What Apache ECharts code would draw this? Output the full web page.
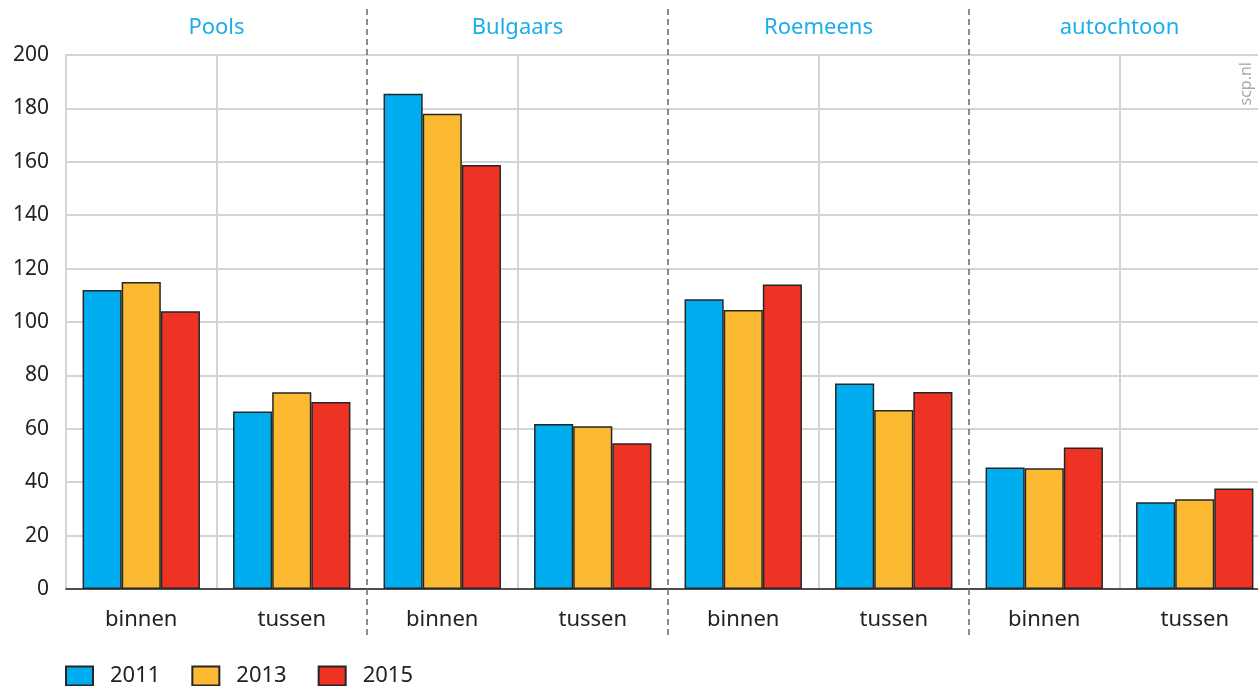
<!DOCTYPE html>
<html>
<head>
<meta charset="utf-8">
<script src="https://cdn.jsdelivr.net/npm/echarts@6/dist/echarts.min.js"></script>
<style>
html,body{margin:0;padding:0;background:#fff;}
#chart{width:1258px;height:686px;}
</style>
</head>
<body>
<div id="chart"></div>
<script>
// ---- data ----
const groups = ['Pools', 'Bulgaars', 'Roemeens', 'autochtoon'];
const categories = ['binnen', 'tussen', 'binnen', 'tussen', 'binnen', 'tussen', 'binnen', 'tussen'];
const years = ['2011', '2013', '2015'];
const values2011 = [112, 66.5, 185.5, 61.8, 108.5, 77, 45.5, 32.5];
const values2013 = [115, 73.7, 178, 61, 104.5, 67, 45.2, 33.6];
const values2015 = [104, 70, 158.8, 54.6, 114, 73.8, 53, 37.6];
const separators = [2, 4, 6]; // group boundaries, in category units
const yTicks = { min: 0, max: 200, interval: 20 };

const colors = ['#00aeef', '#fbba31', '#ee3224'];
const font = 'Noto Sans';

const chart = echarts.init(document.getElementById('chart'));

function barSeries(name, data, color) {
  return {
    name: name,
    type: 'bar',
    xAxisIndex: 0,
    yAxisIndex: 0,
    data: data,
    barGap: '0%',
    barCategoryGap: '22%',
    itemStyle: { color: color, borderColor: '#262626', borderWidth: 1.5 }
  };
}

const option = {
  animation: false,
  backgroundColor: '#fff',
  textStyle: { fontFamily: font },
  grid: [
    { left: 66, top: 55, right: -12, bottom: 97, containLabel: false, outerBoundsMode: 'none' },
    { left: 66, top: 8, right: -12, bottom: 51, containLabel: false, outerBoundsMode: 'none' }
  ],
  legend: {
    left: 65,
    top: 665,
    padding: 0,
    itemWidth: 27,
    itemHeight: 19,
    itemGap: 31,
    icon: 'rect',
    data: years,
    textStyle: { fontFamily: font, fontSize: 22, color: '#222', padding: [0, 0, 0, 12] }
  },
  xAxis: [
    {
      type: 'category',
      gridIndex: 0,
      data: categories,
      axisLine: { lineStyle: { color: '#222', width: 1.5 } },
      axisTick: { alignWithLabel: true, length: 10, lineStyle: { color: '#222', width: 1.5 } },
      axisLabel: { fontFamily: font, fontSize: 22, color: '#222', margin: 20, interval: 0 },
      splitLine: { show: true, lineStyle: { color: ['transparent', '#d4d4d4'], width: 2 } }
    },
    {
      type: 'category',
      gridIndex: 0,
      position: 'top',
      data: groups,
      axisLine: { show: false },
      axisTick: { show: false },
      axisLabel: { fontFamily: font, fontSize: 22, color: '#1aaeea', margin: 16, interval: 0 },
      splitLine: { show: false }
    },
    {
      type: 'value',
      gridIndex: 1,
      min: 0,
      max: categories.length,
      show: false
    }
  ],
  yAxis: [
    {
      type: 'value',
      gridIndex: 0,
      min: yTicks.min,
      max: yTicks.max,
      interval: yTicks.interval,
      axisLine: { show: true, lineStyle: { color: '#d4d4d4', width: 2 } },
      axisTick: { show: false },
      axisLabel: { fontFamily: font, fontSize: 21, color: '#222', margin: 17 },
      splitLine: { show: true, lineStyle: { color: '#d4d4d4', width: 2 } }
    },
    {
      type: 'value',
      gridIndex: 1,
      min: 0,
      max: 1,
      show: false
    }
  ],
  graphic: [
    {
      type: 'text',
      right: 4,
      top: 62,
      rotation: Math.PI / 2,
      style: { text: 'scp.nl', fontFamily: font, fontSize: 16, fill: '#aaaaaa' }
    }
  ],
  series: [
    barSeries(years[0], values2011, colors[0]),
    barSeries(years[1], values2013, colors[1]),
    barSeries(years[2], values2015, colors[2]),
    {
      type: 'custom',
      xAxisIndex: 2,
      yAxisIndex: 1,
      silent: true,
      clip: false,
      data: separators.map(function (s) { return [s]; }),
      encode: { x: 0 },
      renderItem: function (params, api) {
        const x = api.value(0);
        const p1 = api.coord([x, 0]);
        const p2 = api.coord([x, 1]);
        return {
          type: 'line',
          shape: { x1: p1[0], y1: p1[1], x2: p2[0], y2: p2[1] },
          style: { stroke: '#707070', lineWidth: 1.6, lineDash: [6, 4] }
        };
      }
    }
  ]
};

chart.setOption(option);
</script>
</body>
</html>
